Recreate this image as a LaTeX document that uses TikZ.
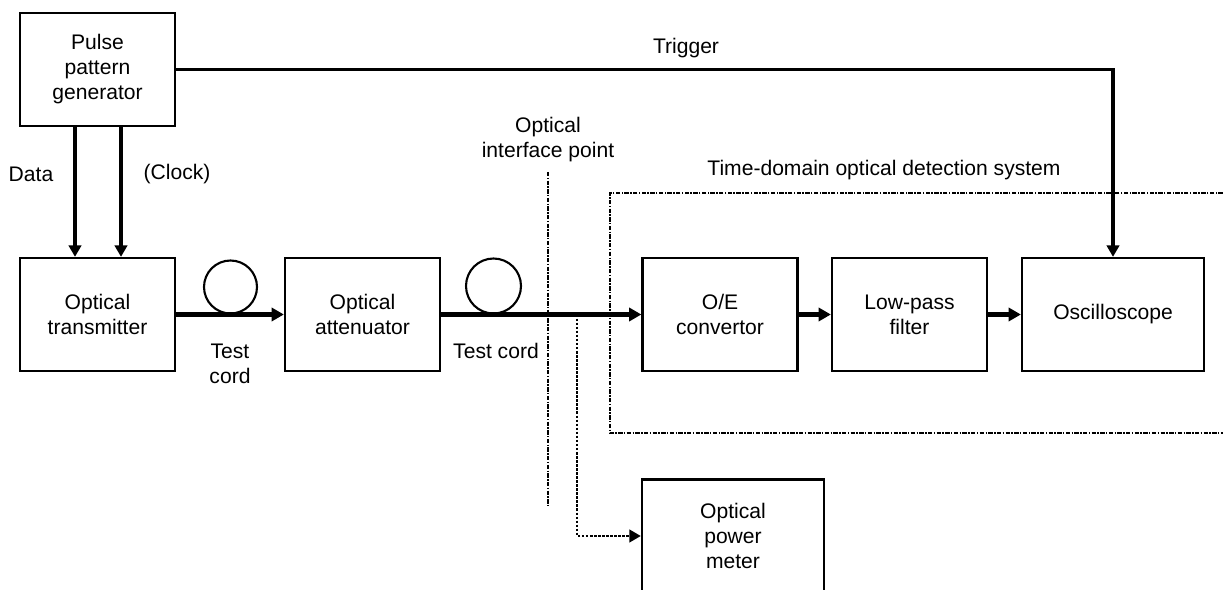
\documentclass[tikz,border=0pt]{standalone}
\usepackage{fontspec}
\setmainfont{Liberation Sans}
\usetikzlibrary{arrows.meta,calc}

\begin{document}
\begin{tikzpicture}[x=0.02cm,y=-0.02cm,
        font=\fontsize{12}{14.2}\selectfont,
        box/.style={draw,line width=1.3pt,minimum width=3.1cm,minimum height=2.26cm,align=center,inner sep=0pt},
        fibre/.style={line width=2.6pt,-{Triangle[length=7pt,width=7.5pt]}},
        sig/.style={line width=1.9pt,-{Triangle[length=6.5pt,width=7pt]}},
        reel/.style={circle,draw,line width=1.2pt,inner sep=0pt},
        dashdot/.style={line width=1.2pt,dash pattern=on 2.5pt off 0.8pt on 0.8pt off 0.8pt}]
        \def\xmax{1223} \def\ymax{590}
        \clip (0,0) rectangle (\xmax,\ymax);

        % blocks
        \node (ppg) at (97.5,69.5) [box] {Pulse\\pattern\\generator};
        \node (otx) at (97.5,314.5) [box] {Optical\\transmitter};
        \node (att) at (362.5,314.5) [box] {Optical\\attenuator};
        \node (oe) at (720,314.5) [box] {O/E\\convertor};
        \node (lpf) at (909.5,314.5) [box] {Low-pass\\filter};
        \node (osc) at (1113,314.5) [box,minimum width=3.64cm] {Oscilloscope};
        \node (pm) at (733,536) [box,minimum width=3.64cm] {Optical\\power\\meter};

        % test cords
        \node (reel1) at (230.5,287) [reel,minimum size=1.06cm] {};
        \node (reel2) at (493.5,286) [reel,minimum size=1.1cm] {};
        \draw[fibre] (otx) -- (att);
        \draw[fibre] (att) -- (oe);
        \draw[fibre] (oe) -- (lpf);
        \draw[fibre] (lpf) -- (osc);
        \node at (230,364) [align=center] {Test\\cord};
        \node at (496,351) {Test cord};

        % data, clock and trigger
        \draw[sig] ($(ppg.south)+(-22.5,0)$) -- ($(otx.north)+(-22.5,0)$);
        \draw[sig] ($(ppg.south)+(23.5,0)$) -- ($(otx.north)+(23.5,0)$);
        \node at (31,174) {Data};
        \node at (177,174) {(Clock)};
        \draw[sig,line width=2.2pt] (ppg.east) -| (osc.north);
        \node at (686,48) {Trigger};

        % optical interface point
        \coordinate (iptop) at (548,172);
        \coordinate (ipbot) at (548,505);
        \draw[dashdot,line width=1.6pt] (iptop) -- (ipbot);
        \node at (548,140) [align=center] {Optical\\interface point};

        % tap to the power meter
        \coordinate (tap) at (577,314.5);
        \draw[line width=1.6pt,dash pattern=on 1.5pt off 0.8pt,-{Triangle[length=6.5pt,width=7pt]}] (tap) |- (pm.west);

        % detection system
        \draw[dashdot] (1240,193) -| (610,433) -- (1240,433);
        \node at (884,170) {Time-domain optical detection system};
      \end{tikzpicture}
\end{document}
